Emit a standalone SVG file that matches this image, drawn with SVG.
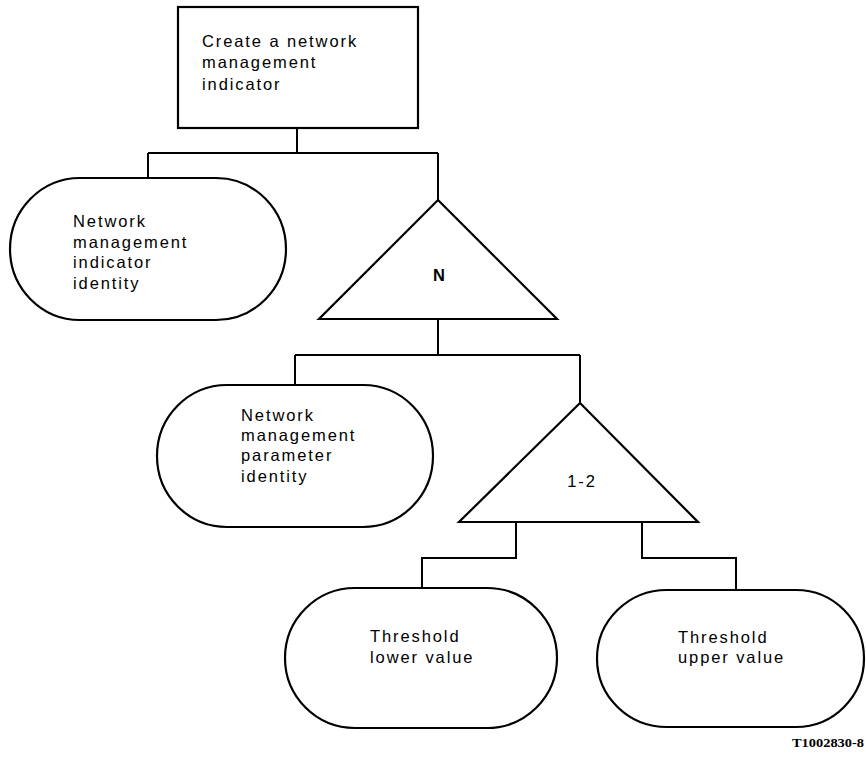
<svg xmlns="http://www.w3.org/2000/svg" width="866" height="760" viewBox="0 0 866 760">
<style>
.s{fill:#fff;stroke:#000;stroke-width:2.2}
.c{fill:none;stroke:#000;stroke-width:2}
.t{font-family:"Liberation Sans",Arial,sans-serif;font-size:16.5px;letter-spacing:1.9px;fill:#000}
.m{text-anchor:middle}
</style>
<rect width="866" height="760" fill="#fff"/>
<g id="connectors">
<path class="c" d="M297,128 V153 M148,153 H438 M148,153 V178 M438,153 V200"/>
<path class="c" d="M438,319 V355 M295,355 H580 M295,355 V385 M580,355 V403"/>
<path class="c" d="M516,522 V558 H422 V588 M642,522 V558 H736 V590"/>
</g>
<g id="root">
<rect class="s" x="178" y="7" width="240" height="121"/>
<text class="t" x="202" y="47">Create a network</text>
<text class="t" x="202" y="68">management</text>
<text class="t" x="202" y="90">indicator</text>
</g>
<g id="indicator-identity">
<path class="s" d="M80,178 H216 A70,71 0 0 1 216,320 H80 A70,71 0 0 1 80,178 Z"/>
<text class="t" x="73" y="227">Network</text>
<text class="t" x="73" y="248">management</text>
<text class="t" x="73" y="268">indicator</text>
<text class="t" x="73" y="289">identity</text>
</g>
<g id="n-repeat">
<polygon class="s" points="438,200 557,319 319,319"/>
<text class="t m" x="440" y="281" font-size="18" font-weight="bold" letter-spacing="0">N</text>
</g>
<g id="parameter-identity">
<path class="s" d="M227,385 H363 A70,71 0 0 1 363,527 H227 A70,71 0 0 1 227,385 Z"/>
<text class="t" x="241" y="421">Network</text>
<text class="t" x="241" y="441">management</text>
<text class="t" x="241" y="461">parameter</text>
<text class="t" x="241" y="482">identity</text>
</g>
<g id="range-1-2">
<polygon class="s" points="580,403 698,522 459,522"/>
<text class="t m" x="582" y="487" font-size="17" letter-spacing="0.5">1-2</text>
</g>
<g id="threshold-lower">
<path class="s" d="M355,588 H487 A70,70 0 0 1 487,728 H355 A70,70 0 0 1 355,588 Z"/>
<text class="t" x="370" y="642">Threshold</text>
<text class="t" x="370" y="663">lower value</text>
</g>
<g id="threshold-upper">
<path class="s" d="M667,590 H796 A68,68.5 0 0 1 796,727 H667 A70,68.5 0 0 1 667,590 Z"/>
<text class="t" x="678" y="643">Threshold</text>
<text class="t" x="678" y="663">upper value</text>
</g>
<text x="864" y="747" text-anchor="end" font-family="'Liberation Serif','Times New Roman',serif" font-weight="bold" font-size="13" textLength="72" lengthAdjust="spacingAndGlyphs">T1002830-8</text>
</svg>
